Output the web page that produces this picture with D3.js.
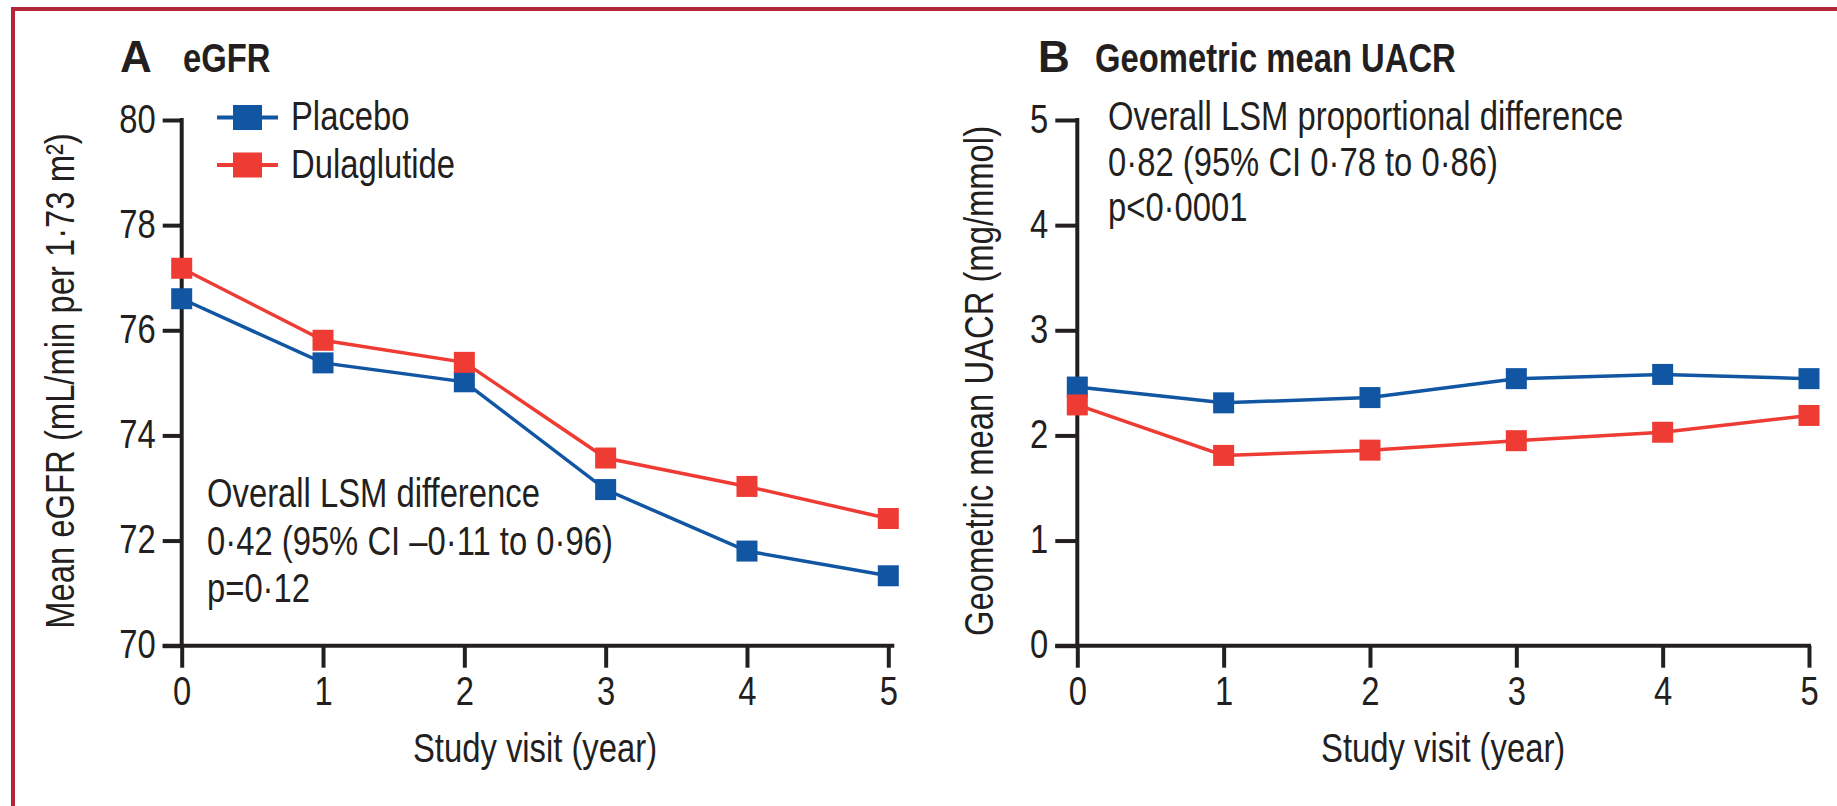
<!DOCTYPE html>
<html>
<head>
<meta charset="utf-8">
<script src="https://cdn.jsdelivr.net/npm/d3@7/dist/d3.min.js"></script>
<style>
  html, body { margin: 0; padding: 0; background: #ffffff; }
  svg { display: block; }
</style>
</head>
<body>
<svg id="chart" width="1837" height="806"></svg>
<script>
// ---- data ----
const years = [0, 1, 2, 3, 4, 5];
const seriesNames = ["Placebo", "Dulaglutide"];
const egfrPlacebo = [76.6, 75.38, 75.02, 72.97, 71.8, 71.33];
const egfrDulaglutide = [77.18, 75.81, 75.39, 73.57, 73.03, 72.42];
const uacrPlacebo = [2.46, 2.31, 2.36, 2.54, 2.58, 2.54];
const uacrDulaglutide = [2.29, 1.81, 1.86, 1.95, 2.03, 2.19];
const egfrTicks = [70, 72, 74, 76, 78, 80];
const uacrTicks = [0, 1, 2, 3, 4, 5];
const yearTicks = [0, 1, 2, 3, 4, 5];
const annotationA = ["Overall LSM difference", "0·42 (95% CI –0·11 to 0·96)", "p=0·12"];
const annotationB = ["Overall LSM proportional difference", "0·82 (95% CI 0·78 to 0·86)", "p<0·0001"];

// ---- styles ----
const FONT = "'Liberation Sans', Arial, sans-serif";
const SX = 0.82; // horizontal condensation to mimic narrow type
const INK = "#231f20";
const BLUE = "#1156a2";
const RED = "#ee3b33";
const colors = [BLUE, RED];

const svg = d3.select("#chart");

function addText(parent, x, y, str, opts = {}) {
  const rot = opts.rotate ? ` rotate(${opts.rotate})` : "";
  const sx = opts.sx === undefined ? SX : opts.sx;
  return parent.append("text")
    .attr("transform", `translate(${x},${y})${rot} scale(${sx},1)`)
    .attr("text-anchor", opts.anchor || "start")
    .attr("font-family", FONT)
    .attr("font-size", opts.size || 40)
    .attr("font-weight", opts.weight || "normal")
    .attr("fill", INK)
    .text(str);
}

function condenseTicks(sel) {
  sel.selectAll(".tick text").each(function () {
    const t = d3.select(this);
    const x = +t.attr("x") || 0;
    const y = +t.attr("y") || 0;
    t.attr("x", 0).attr("y", 0)
      .attr("transform", `translate(${x},${y}) scale(${SX},1)`)
      .attr("font-family", FONT).attr("font-size", 40).attr("fill", INK);
  });
}

// border (top + left)
svg.append("line").attr("x1", 11).attr("x2", 1837).attr("y1", 9).attr("y2", 9)
  .attr("stroke", "#b3263a").attr("stroke-width", 4);
svg.append("line").attr("x1", 13).attr("x2", 13).attr("y1", 7).attr("y2", 806)
  .attr("stroke", "#b3263a").attr("stroke-width", 4);

function panel(cfg) {
  const x = d3.scaleLinear().domain([0, 5]).range(cfg.xRange);
  const y = d3.scaleLinear().domain(cfg.yDomain).range([645.7, 120]);
  const g = svg.append("g");

  // y axis
  const yAxis = d3.axisLeft(y).tickValues(cfg.yTicks).tickSize(cfg.yTickLen)
    .tickSizeOuter(0).tickPadding(7).tickFormat(d3.format("d"));
  const gy = g.append("g").attr("transform", `translate(${x(0)},0)`).call(yAxis);
  gy.select(".domain").remove();
  gy.selectAll(".tick line").attr("stroke", INK).attr("stroke-width", 4);
  gy.selectAll(".tick text").attr("dy", "0.3em");
  condenseTicks(gy);
  g.append("line").attr("x1", x(0)).attr("x2", x(0))
    .attr("y1", y(cfg.yDomain[1]) - 2).attr("y2", y(cfg.yDomain[0]))
    .attr("stroke", INK).attr("stroke-width", 4);

  // x axis
  const xAxis = d3.axisBottom(x).tickValues(yearTicks).tickSize(22).tickSizeOuter(0)
    .tickPadding(9).tickFormat(d3.format("d"));
  const gx = g.append("g").attr("transform", `translate(0,${y(cfg.yDomain[0])})`).call(xAxis);
  gx.select(".domain").remove();
  gx.selectAll(".tick line").attr("stroke", INK).attr("stroke-width", 4);
  condenseTicks(gx);
  g.append("line").attr("x1", x(0) - cfg.yTickLen).attr("x2", x(5) + cfg.xExtra)
    .attr("y1", y(cfg.yDomain[0])).attr("y2", y(cfg.yDomain[0]))
    .attr("stroke", INK).attr("stroke-width", 4);

  // axis titles
  addText(g, (x(0) + x(5)) / 2, 762, "Study visit (year)", { anchor: "middle" });
  addText(g, cfg.yTitleX, 381, cfg.yTitle, { anchor: "middle", rotate: -90 });

  // panel label + title
  addText(g, cfg.letterX, 72, cfg.letter, { weight: "bold", size: 44, sx: 1 });
  addText(g, cfg.titleX, 72, cfg.title, { weight: "bold" });

  // annotation
  cfg.annotation.forEach((t, i) => addText(g, cfg.annX, cfg.annY[i], t));

  // series
  const line = d3.line().x((d, i) => x(years[i])).y(d => y(d));
  cfg.series.forEach((vals, k) => {
    g.append("path").attr("d", line(vals)).attr("fill", "none")
      .attr("stroke", colors[k]).attr("stroke-width", 3.5);
  });
  cfg.series.forEach((vals, k) => {
    g.selectAll(null).data(vals).enter().append("rect")
      .attr("x", (d, i) => x(years[i]) - 10.5).attr("y", d => y(d) - 10.5)
      .attr("width", 21).attr("height", 21).attr("fill", colors[k]);
  });
  return { x, y, g };
}

panel({
  xRange: [181.7, 888.3], yDomain: [70, 80], yTicks: egfrTicks, yTickLen: 19, xExtra: 6,
  yTitle: "Mean eGFR (mL/min per 1·73 m²)", yTitleX: 74,
  letter: "A", letterX: 120, title: "eGFR", titleX: 183,
  annotation: annotationA, annX: 207, annY: [507, 555, 602],
  series: [egfrPlacebo, egfrDulaglutide]
});

panel({
  xRange: [1077.3, 1809], yDomain: [0, 5], yTicks: uacrTicks, yTickLen: 22, xExtra: 2,
  yTitle: "Geometric mean UACR (mg/mmol)", yTitleX: 993,
  letter: "B", letterX: 1038, title: "Geometric mean UACR", titleX: 1095,
  annotation: annotationB, annX: 1108, annY: [130, 176, 221],
  series: [uacrPlacebo, uacrDulaglutide]
});

// legend (panel A)
const legY = [117.5, 165];
const legTextY = [130, 178];
seriesNames.forEach((name, k) => {
  const lg = svg.append("g");
  lg.append("line").attr("x1", 217).attr("x2", 278).attr("y1", legY[k]).attr("y2", legY[k])
    .attr("stroke", colors[k]).attr("stroke-width", 4);
  lg.append("rect").attr("x", 233).attr("y", legY[k] - 12.5).attr("width", 29).attr("height", 25)
    .attr("fill", colors[k]);
  addText(lg, 291, legTextY[k], name);
});
</script>
</body>
</html>
